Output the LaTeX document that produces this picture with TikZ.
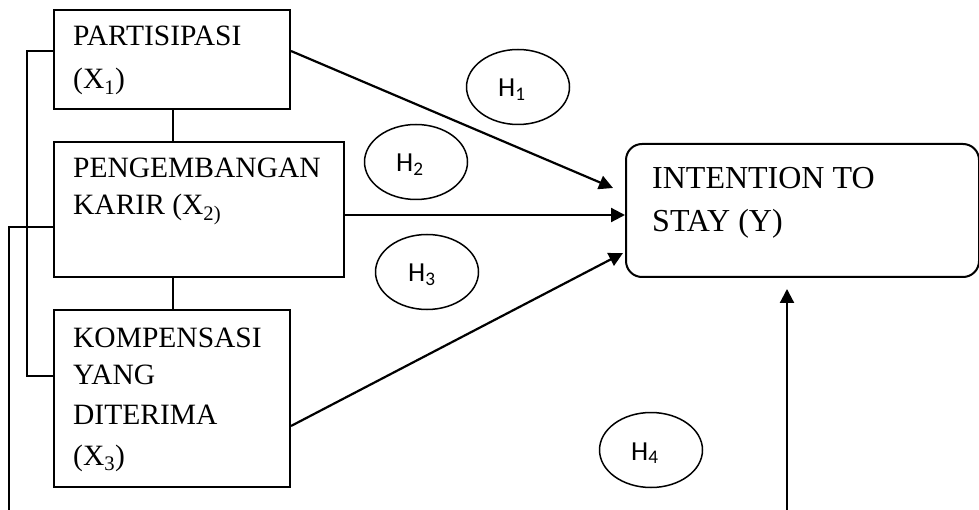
\documentclass[tikz,border=0pt]{standalone}
\usepackage{fontspec}
\setmainfont{Liberation Serif}
\newfontfamily\hfont{Carlito}
\usetikzlibrary{arrows.meta,shapes.geometric}
\begin{document}
\begin{tikzpicture}[x=1pt,y=-1pt,
  box/.style={draw,line width=2pt,rectangle,inner sep=0pt,anchor=north west},
  ybox/.style={draw,line width=2pt,rectangle,rounded corners=16pt,inner sep=0pt,anchor=north west},
  lt/.style={anchor=base west,inner sep=0pt,font=\fontsize{29.5}{35}\selectfont},
  rt/.style={anchor=base west,inner sep=0pt,font=\fontsize{32}{38}\selectfont},
  hyp/.style={draw,ellipse,line width=1.5pt,inner sep=0pt,minimum width=103pt,minimum height=75pt},
  hl/.style={anchor=base west,inner sep=0pt,font=\hfont\fontsize{27.5}{32}\selectfont},
  con/.style={line width=2pt},
  arr/.style={line width=2.2pt,-{Triangle[length=14pt,width=14pt]}}]
\useasboundingbox (0,0) rectangle (979,510);
% boxes
\node[box,minimum width=236pt,minimum height=99pt] (X1) at (53,9) {};
\node[box,minimum width=290pt,minimum height=135pt] (X2) at (53,141) {};
\node[box,minimum width=236pt,minimum height=177pt] (X3) at (53,309) {};
\node[ybox,minimum width=353pt,minimum height=133pt] (Y) at (625,143) {};
% texts
\node[lt] (t1a) at (73,46) {PARTISIPASI};
\node[lt] (t1b) at (73,89) {(X\textsubscript{1})};
\node[lt] (t2a) at (73,178) {PENGEMBANGAN};
\node[lt] (t2b) at (73,215) {KARIR (X\textsubscript{2)}};
\node[lt] (t3a) at (73,347) {KOMPENSASI};
\node[lt] (t3b) at (73,384) {YANG};
\node[lt] (t3c) at (73,424) {DITERIMA};
\node[lt] (t3d) at (73,465) {(X\textsubscript{3})};
\node[rt] (ya) at (652,189) {INTENTION TO};
\node[rt] (yb) at (652,232) {STAY (Y)};
% hypotheses
\node[hyp] (H1) at (518,87) {};
\node[hyp] (H2) at (416,162) {};
\node[hyp] (H3) at (427,272) {};
\node[hyp] (H4) at (651,450) {};
\node[hl] (h1t) at (498,97) {H\textsubscript{1}};
\node[hl] (h2t) at (396,172) {H\textsubscript{2}};
\node[hl] (h3t) at (408,282) {H\textsubscript{3}};
\node[hl] (h4t) at (631,460) {H\textsubscript{4}};
% vertical links between boxes
\draw[con] (173,0 |- X1.south) -- (173,0 |- X2.north);
\draw[con] (173,0 |- X2.south) -- (173,0 |- X3.north);
% left bracket
\draw[con] (X1.west |- 0,51) -- (27,51) -- (27,376) -- (X3.west |- 0,376);
% long path round the bottom
\coordinate (bl) at (9,510);
\coordinate (br) at (787,510);
\draw[con] (X2.west |- 0,227) -| (bl);
% arrows
\draw[arr] (X1.east |- 0,51) -- (613,188);
\draw[arr] (X2.east |- 0,215) -- (Y.west |- 0,215);
\draw[arr] (X3.east |- 0,426) -- (623,253);
\draw[arr] (br) -- (787,289);
\end{tikzpicture}
\end{document}
